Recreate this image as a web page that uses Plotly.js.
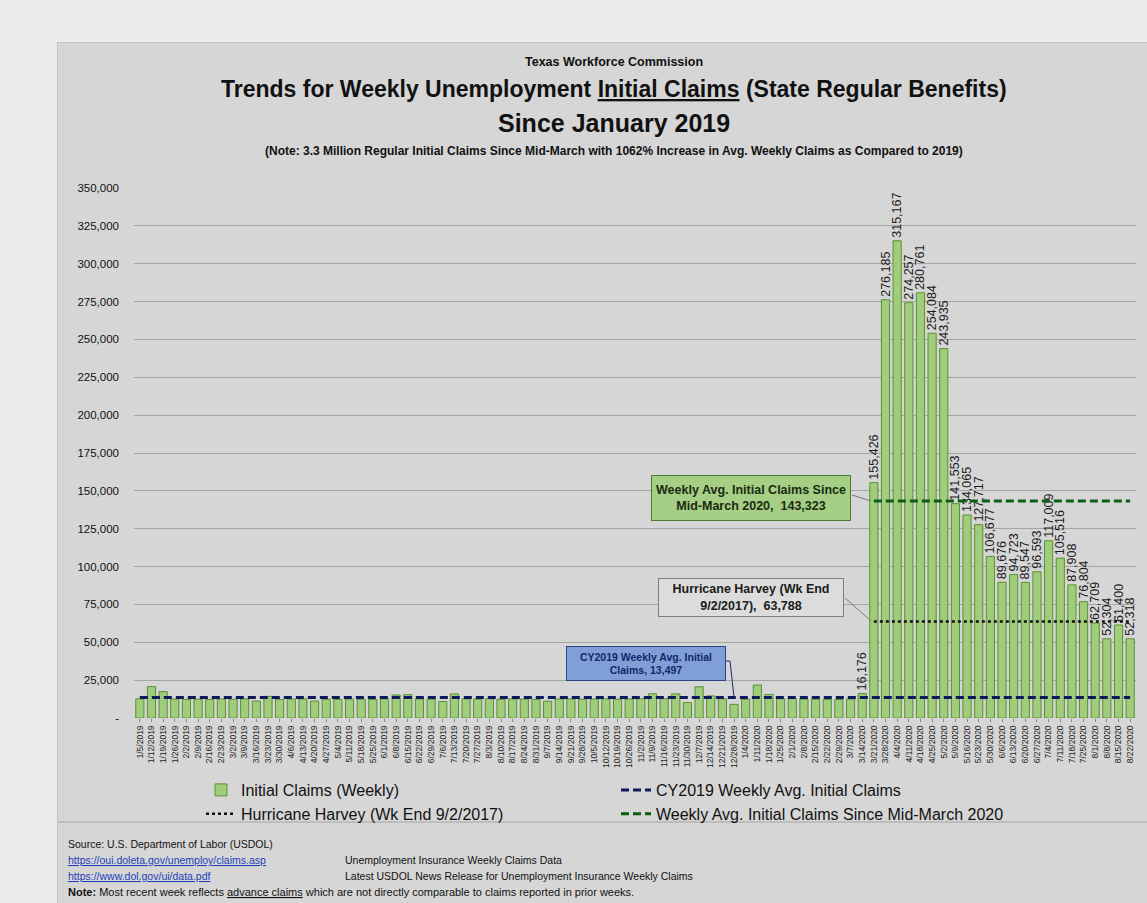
<!DOCTYPE html>
<html>
<head>
<meta charset="utf-8">
<script src="https://cdn.plot.ly/plotly-3.0.1.min.js"></script>
<style>
  html, body { margin: 0; padding: 0; background: #ebebe9; width: 1147px; height: 903px; overflow: hidden; }
  #chart { position: absolute; left: 57px; top: 42px; width: 1090px; height: 861px; border-left: 1px solid #c4c4c4; border-top: 1px solid #c4c4c4; box-sizing: border-box; }
</style>
</head>
<body>
<div id="chart"></div>
<script>
// ---- Data ----
const weeks = [
  "1/5/2019","1/12/2019","1/19/2019","1/26/2019","2/2/2019","2/9/2019","2/16/2019","2/23/2019",
  "3/2/2019","3/9/2019","3/16/2019","3/23/2019","3/30/2019","4/6/2019","4/13/2019","4/20/2019",
  "4/27/2019","5/4/2019","5/11/2019","5/18/2019","5/25/2019","6/1/2019","6/8/2019","6/15/2019",
  "6/22/2019","6/29/2019","7/6/2019","7/13/2019","7/20/2019","7/27/2019","8/3/2019","8/10/2019",
  "8/17/2019","8/24/2019","8/31/2019","9/7/2019","9/14/2019","9/21/2019","9/28/2019","10/5/2019",
  "10/12/2019","10/19/2019","10/26/2019","11/2/2019","11/9/2019","11/16/2019","11/23/2019","11/30/2019",
  "12/7/2019","12/14/2019","12/21/2019","12/28/2019",
  "1/4/2020","1/11/2020","1/18/2020","1/25/2020","2/1/2020","2/8/2020","2/15/2020","2/22/2020",
  "2/29/2020","3/7/2020","3/14/2020","3/21/2020","3/28/2020","4/4/2020","4/11/2020","4/18/2020",
  "4/25/2020","5/2/2020","5/9/2020","5/16/2020","5/23/2020","5/30/2020","6/6/2020","6/13/2020",
  "6/20/2020","6/27/2020","7/4/2020","7/11/2020","7/18/2020","7/25/2020","8/1/2020","8/8/2020",
  "8/15/2020","8/22/2020"
];
const claims2019 = [
  12600, 20700, 17400, 12500, 12300, 12400, 12200, 12500,
  12400, 12600, 11200, 14300, 12300, 12500, 12600, 11200,
  12400, 12300, 12500, 12400, 12200, 12600, 15200, 15400,
  12600, 12400, 10900, 15900, 12600, 12500, 12700, 12400,
  12600, 12500, 12300, 11100, 12500, 12600, 12400, 12500,
  12600, 12400, 12500, 12700, 16000, 12800, 15900, 10200,
  20600, 14600, 12700, 9000
];
const claims2020 = [
  12400, 21800, 15600, 12700, 12800, 12500, 12400, 12300,
  12200, 12500, 16176, 155426, 276185, 315167, 274257, 280761,
  254084, 243935, 141553, 134065, 127717, 106677, 89676, 94723,
  89547, 96593, 117009, 105516, 87908, 76804, 62709, 52304,
  61400, 52318
];
const firstLabeledWeek = "3/14/2020";
const avgCY2019 = 13497;
const avgSinceMidMarch = 143323;
const hurricaneHarvey = 63788;
const midMarchStart = "3/21/2020";
const yTickVals = [0, 25000, 50000, 75000, 100000, 125000, 150000, 175000, 200000, 225000, 250000, 275000, 300000, 325000, 350000];
const yTickText = ["-", "25,000", "50,000", "75,000", "100,000", "125,000", "150,000", "175,000", "200,000", "225,000", "250,000", "275,000", "300,000", "325,000", "350,000"];

// ---- Build ----
const claims = claims2019.concat(claims2020);
const labelStart = weeks.indexOf(firstLabeledWeek);
const barText = claims.map((v, i) => i >= labelStart ? v.toLocaleString('en-US') : '');
const lastWeek = weeks[weeks.length - 1];

const FONT = "'Liberation Sans Narrow', 'Arial Narrow', 'Liberation Sans', Arial, sans-serif";

// layout helpers: absolute page pixels -> paper fractions (plot area 133..1135 x, 187..717 y)
const px = x => (x - 133) / 1002;
const py = y => (717 - y) / 530;

const traces = [
  {
    type: 'bar', name: 'Initial Claims (Weekly)',
    x: weeks, y: claims,
    text: barText, textposition: 'outside', textangle: -90, constraintext: 'none', cliponaxis: false,
    textfont: { family: FONT, size: 12.5, color: '#1a1a1a' },
    marker: { color: '#a0cd7c', line: { color: '#5a9130', width: 1 } }
  },
  {
    type: 'scatter', mode: 'lines', name: 'CY2019 Weekly Avg. Initial Claims',
    x: [weeks[0], lastWeek], y: [avgCY2019, avgCY2019],
    line: { color: '#0c1a5c', width: 3, dash: '8px,4px' }
  },
  {
    type: 'scatter', mode: 'lines', name: 'Hurricane Harvey (Wk End 9/2/2017)',
    x: [midMarchStart, lastWeek], y: [hurricaneHarvey, hurricaneHarvey],
    line: { color: '#111111', width: 2.5, dash: 'dot' }
  },
  {
    type: 'scatter', mode: 'lines', name: 'Weekly Avg. Initial Claims Since Mid-March 2020',
    x: [midMarchStart, lastWeek], y: [avgSinceMidMarch, avgSinceMidMarch],
    line: { color: '#0b5e12', width: 3, dash: '8px,4px' }
  }
];

const note = (x, y, text, opts) => Object.assign({
  xref: 'paper', yref: 'paper', x: px(x), y: py(y), text: text, showarrow: false,
  xanchor: 'center', yanchor: 'middle', font: { family: FONT, size: 12, color: '#111' }
}, opts || {});

const annotations = [
  note(613, 61, '<b>Texas Workforce Commission</b>', { font: { family: FONT, size: 12.5, color: '#111' } }),
  note(613, 88, '<b>Trends for Weekly Unemployment <span style="text-decoration:underline">Initial Claims</span> (State Regular Benefits)</b>', { font: { family: FONT, size: 23, color: '#111' } }),
  note(613, 122, '<b>Since January 2019</b>', { font: { family: FONT, size: 25, color: '#111' } }),
  note(613, 150, '<b>(Note: 3.3 Million Regular Initial Claims Since Mid-March with 1062% Increase in Avg. Weekly Claims as Compared to 2019)</b>', { font: { family: FONT, size: 12, color: '#111' } }),
  // boxed call-outs
  note(750, 497, '<b>Weekly Avg. Initial Claims Since<br>Mid-March 2020,  143,323</b>', {
    width: 194, height: 40, bgcolor: '#a4cf84', bordercolor: '#4f7a30', borderwidth: 1, borderpad: 2,
    font: { family: FONT, size: 12.5, color: '#1b2a12' }
  }),
  note(750, 596.5, '<b>Hurricane Harvey (Wk End<br>9/2/2017),  63,788</b>', {
    width: 180, height: 33, bgcolor: '#dcdcdc', bordercolor: '#7d7d7d', borderwidth: 1, borderpad: 2,
    font: { family: FONT, size: 12.5, color: '#1a1a1a' }
  }),
  note(645, 662.5, '<b>CY2019 Weekly Avg. Initial<br>Claims, 13,497</b>', {
    width: 154, height: 29, bgcolor: '#7f9fd6', bordercolor: '#2a4585', borderwidth: 1, borderpad: 2,
    font: { family: FONT, size: 10.5, color: '#12266e' }
  }),
  // footer
  note(65, 843, 'Source: U.S. Department of Labor (USDOL)', { xanchor: 'left', font: { family: FONT, size: 10.5, color: '#111' } }),
  note(65, 859, '<span style="text-decoration:underline">https://oui.doleta.gov/unemploy/claims.asp</span>', { xanchor: 'left', font: { family: FONT, size: 10.5, color: '#1d3fb8' } }),
  note(342, 859, 'Unemployment Insurance Weekly Claims Data', { xanchor: 'left', font: { family: FONT, size: 10.5, color: '#111' } }),
  note(65, 875, '<span style="text-decoration:underline">https://www.dol.gov/ui/data.pdf</span>', { xanchor: 'left', font: { family: FONT, size: 10.5, color: '#1d3fb8' } }),
  note(342, 875, 'Latest USDOL News Release for Unemployment Insurance Weekly Claims', { xanchor: 'left', font: { family: FONT, size: 10.5, color: '#111' } }),
  note(65, 891, '<b>Note:</b> Most recent week reflects <span style="text-decoration:underline">advance claims</span> which are not directly comparable to claims reported in prior weeks.', { xanchor: 'left', font: { family: FONT, size: 11, color: '#111' } })
];

const lineShape = (x0, y0, x1, y1, color, width) => ({
  type: 'line', xref: 'paper', yref: 'paper', x0: px(x0), y0: py(y0), x1: px(x1), y1: py(y1),
  line: { color: color, width: width || 1 }
});

const shapes = [
  lineShape(851, 494, 870, 500, '#7a7a7a', 1),
  lineShape(844, 597, 870, 620, '#7a7a7a', 1),
  lineShape(725, 660, 729, 660, '#1b2f6e', 1),
  lineShape(729, 660, 733, 696, '#1b2f6e', 1),
  lineShape(57, 821, 1147, 821, '#b5b5b5', 1.5)
];

const layout = {
  width: 1090, height: 861,
  margin: { l: 76, r: 12, t: 145, b: 186 },
  paper_bgcolor: '#d6d6d6', plot_bgcolor: '#d6d6d6',
  font: { family: FONT, color: '#111' },
  bargap: 0.3,
  showlegend: true,
  legend: {
    orientation: 'h', x: px(200), xanchor: 'left', y: py(772), yanchor: 'top',
    entrywidth: 370, entrywidthmode: 'pixels', itemwidth: 30, traceorder: 'normal',
    font: { family: FONT, size: 16, color: '#111' }, bgcolor: 'rgba(0,0,0,0)'
  },
  xaxis: {
    type: 'category', tickangle: -90, tickfont: { family: FONT, size: 8.5, color: '#222' },
    ticks: 'outside', ticklen: 3, tickcolor: '#888', showgrid: false, showline: false, zeroline: false,
    automargin: false
  },
  yaxis: {
    range: [0, 350000], tickvals: yTickVals, ticktext: yTickText,
    tickfont: { family: FONT, size: 11.5, color: '#111' },
    showgrid: true, gridcolor: '#a5a5a5', gridwidth: 1, zeroline: false, showline: false,
    ticks: '', ticklabelstandoff: 14, automargin: false
  },
  annotations: annotations,
  shapes: shapes
};

Plotly.newPlot('chart', traces, layout, { displayModeBar: false, staticPlot: true });
</script>
</body>
</html>
